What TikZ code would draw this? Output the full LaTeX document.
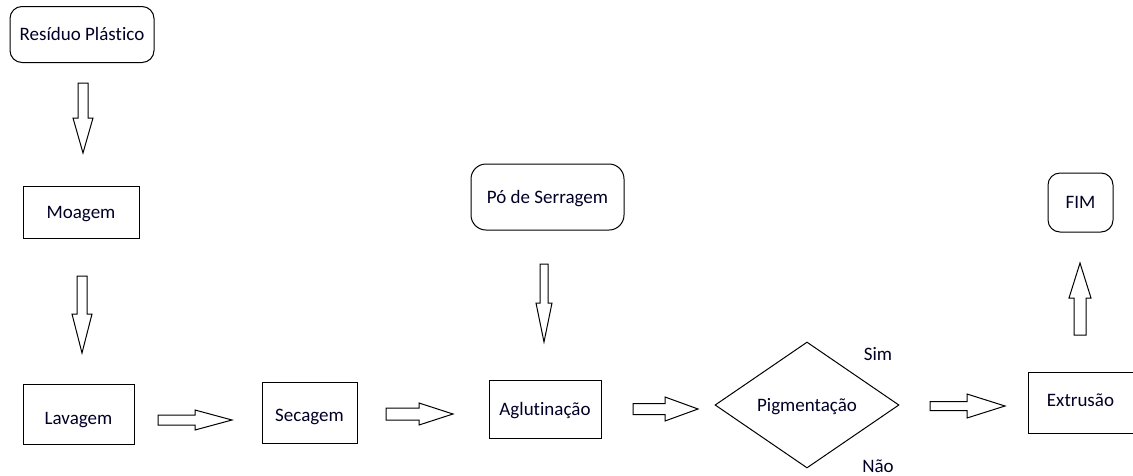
\documentclass[tikz,border=0pt]{standalone}
\usepackage{fontspec}
\setmainfont[Ligatures=NoCommon]{Carlito}
\usetikzlibrary{shapes.geometric}
\newcommand\harrow[6]{\draw[blk] (#1,{#4-#5}) -- (#2,{#4-#5}) -- (#2,{#4-#6}) -- (#3,#4) -- (#2,{#4+#6}) -- (#2,{#4+#5}) -- (#1,{#4+#5}) -- cycle;}
\newcommand\varrow[6]{\draw[blk] ({#4-#5},#1) -- ({#4-#5},#2) -- ({#4-#6},#2) -- (#4,#3) -- ({#4+#6},#2) -- ({#4+#5},#2) -- ({#4+#5},#1) -- cycle;}
\tikzset{
  every node/.style={font=\fontsize{19}{22}\selectfont, text=black!85!blue},
  box/.style={draw, line width=1pt, rectangle, inner sep=0pt, text height=16.4pt, text depth=4pt},
  rbox/.style={box, rounded corners=12pt},
  dec/.style={draw, line width=1pt, diamond, inner sep=0pt, text height=16.4pt, text depth=4pt},
  blk/.style={draw, line width=1pt, fill=white, line join=miter},
  lbl/.style={inner sep=0pt}
}
\begin{document}
\begin{tikzpicture}[x=1pt,y=-1pt]
\useasboundingbox (0,0) rectangle (1133,475);
\node[rbox, minimum width=144pt, minimum height=56pt] (res) at (82,34.5) {Resíduo Plástico};
\node[box, minimum width=116pt, minimum height=52pt] (moa) at (81,212) {Moagem};
\node[box, text height=24.4pt, minimum width=111pt, minimum height=60pt] (lav) at (78.5,414) {Lavagem};
\node[box, text height=22.4pt, minimum width=95pt, minimum height=61pt] (sec) at (309.5,412.5) {Secagem};
\node[box, minimum width=112pt, minimum height=58pt] (agl) at (545,409) {Aglutinação};
\node[rbox, rounded corners=15pt, minimum width=153pt, minimum height=66pt] (po) at (547.5,197) {Pó de Serragem};
\node[dec, minimum width=184pt, minimum height=126pt] (pig) at (807,405) {Pigmentação};
\node[lbl] (sim) at (878,354) {Sim};
\node[lbl] (nao) at (878,466) {Não};
\node[box, text height=11.4pt, minimum width=105pt, minimum height=61pt] (ext) at (1080.5,402.5) {Extrusão};
\node[rbox, minimum width=65pt, minimum height=59pt] (fim) at (1080.5,202.5) {FIM};
% block arrows
\varrow{83}{118}{153}{83}{5}{10}
\varrow{276}{314}{353}{82}{5}{10}
\harrow{158}{195}{232}{420}{5}{10}
\harrow{386}{419}{453}{414}{6}{11}
\varrow{264}{303}{342}{544}{4}{8}
\harrow{633}{665}{698}{409}{5.5}{12}
\harrow{930}{967}{1005}{406}{4.5}{12}
\varrow{335}{298}{263}{1080}{6}{11}
\end{tikzpicture}
\end{document}
